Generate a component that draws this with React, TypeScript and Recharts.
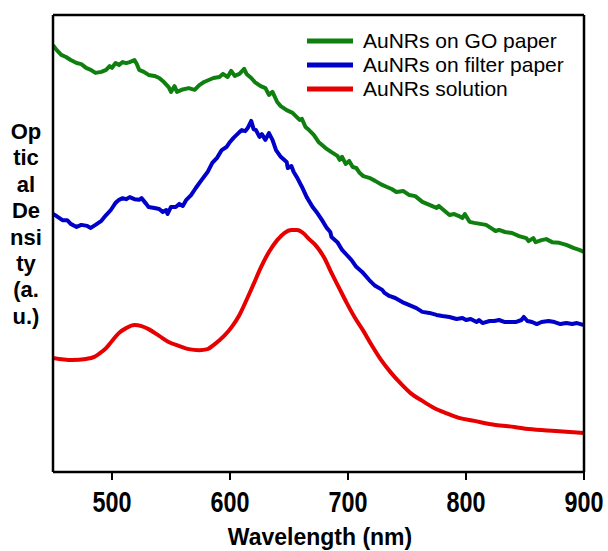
import React from 'react';
import { LineChart, Line, XAxis, YAxis } from 'recharts';

// [wavelength (nm), optical density (a.u.)]
const goPaperSpectrum: [number, number][] = [
  [450,12.61],[453,12.47],[457,12.32],[461,12.26],[465,12.17],[470,12.08],[474,12.05],[478,11.94],[482,11.88],[486,11.79],
  [491,11.82],[495,11.88],[498,11.99],[500,11.94],[503,12.08],[506,12.02],[509,12.11],[512,12.08],[515,12.11],[519,12.17],
  [521,12.05],[523,11.88],[527,11.82],[531,11.73],[536,11.70],[540,11.64],[544,11.52],[548,11.37],[550,11.23],[553,11.40],
  [555,11.23],[559,11.29],[565,11.34],[570,11.29],[574,11.43],[578,11.52],[582,11.58],[586,11.64],[591,11.67],[594,11.76],
  [598,11.67],[601,11.85],[604,11.70],[608,11.76],[612,11.91],[614,11.76],[618,11.64],[621,11.52],[626,11.40],[630,11.34],
  [633,11.14],[636,11.23],[640,10.93],[643,10.81],[648,10.69],[653,10.61],[659,10.40],[661,10.43],[664,10.19],[667,10.10],
  [671,9.96],[675,9.75],[681,9.57],[686,9.45],[691,9.34],[693,9.22],[695,9.31],[698,9.10],[701,9.19],[704,9.01],
  [707,8.98],[710,8.83],[713,8.74],[718,8.69],[723,8.60],[729,8.48],[733,8.42],[737,8.36],[741,8.27],[747,8.30],
  [752,8.18],[757,8.15],[763,7.98],[769,7.89],[775,7.80],[777,7.86],[781,7.74],[786,7.59],[790,7.62],[794,7.56],
  [797,7.50],[799,7.62],[803,7.39],[807,7.36],[812,7.33],[817,7.30],[821,7.21],[825,7.12],[828,7.15],[833,7.09],
  [839,7.06],[845,6.97],[851,6.91],[853,6.82],[857,6.91],[859,6.79],[864,6.85],[868,6.88],[873,6.79],[879,6.77],
  [885,6.71],[891,6.62],[896,6.56],[900,6.50],
];

const filterPaperSpectrum: [number, number][] = [
  [450,7.62],[453,7.56],[458,7.44],[462,7.44],[465,7.33],[470,7.24],[474,7.30],[479,7.27],[482,7.21],[486,7.30],
  [491,7.42],[495,7.59],[499,7.74],[503,7.95],[506,8.04],[509,8.09],[512,8.06],[515,8.12],[519,8.06],[523,8.04],
  [525,8.09],[529,7.92],[531,7.83],[536,7.80],[540,7.77],[543,7.68],[546,7.74],[547,7.62],[550,7.83],[554,7.83],
  [557,7.92],[560,7.86],[563,8.04],[567,8.18],[571,8.39],[576,8.63],[581,8.86],[585,9.13],[589,9.28],[593,9.51],
  [597,9.60],[600,9.75],[603,9.87],[608,10.04],[610,10.10],[613,10.07],[615,10.16],[618,10.37],[620,10.13],[622,10.10],
  [625,9.90],[627,9.98],[630,9.81],[633,10.01],[636,9.81],[639,9.51],[643,9.31],[648,9.16],[649,8.98],[652,9.04],
  [654,8.86],[657,8.69],[661,8.42],[665,8.12],[670,7.83],[674,7.65],[678,7.44],[682,7.21],[685,7.09],[686,6.94],
  [691,6.79],[695,6.56],[699,6.41],[703,6.26],[707,6.06],[712,5.91],[718,5.67],[723,5.50],[729,5.38],[731,5.29],
  [735,5.20],[740,5.14],[746,5.02],[752,4.93],[758,4.84],[763,4.73],[769,4.70],[775,4.64],[780,4.61],[786,4.58],
  [792,4.52],[797,4.55],[800,4.49],[804,4.52],[809,4.43],[811,4.49],[814,4.40],[820,4.46],[824,4.46],[828,4.49],
  [833,4.43],[838,4.43],[842,4.43],[847,4.49],[849,4.58],[852,4.46],[856,4.43],[860,4.37],[864,4.43],[870,4.46],
  [875,4.43],[880,4.37],[885,4.40],[890,4.37],[894,4.40],[900,4.34],
];

const solutionSpectrum: [number, number][] = [
  [450,3.37],[466,3.31],[478,3.34],[485,3.40],[489,3.49],[495,3.66],[500,3.87],[506,4.11],[512,4.25],[519,4.34],
  [525,4.31],[531,4.22],[540,4.02],[548,3.84],[557,3.72],[565,3.63],[574,3.60],[581,3.63],[586,3.75],[595,4.02],
  [602,4.31],[608,4.64],[614,5.08],[620,5.55],[626,6.03],[633,6.50],[640,6.85],[646,7.06],[652,7.15],[657,7.15],
  [662,7.06],[667,6.88],[673,6.68],[680,6.32],[686,5.88],[692,5.47],[699,4.99],[706,4.55],[713,4.17],[720,3.75],
  [728,3.31],[736,2.95],[745,2.60],[753,2.33],[763,2.10],[773,1.89],[783,1.74],[794,1.60],[807,1.51],[825,1.39],
  [841,1.33],[853,1.27],[876,1.21],[900,1.15],
];

const seriesNames = ['AuNRs on GO paper', 'AuNRs on filter paper', 'AuNRs solution'];
const seriesColors = ['#0f800f', '#0000c8', '#e60000'];
const seriesData = [goPaperSpectrum, filterPaperSpectrum, solutionSpectrum];

const xMajorTicks = [500, 600, 700, 800, 900];
const xMinorTicks = [550, 650, 750, 850];
const xTopTicks = [500, 550, 600, 650, 700, 750, 800, 850];
const yTicks = [1, 2, 3, 4, 5, 6, 7, 8, 9, 10, 11, 12, 13];
const xDomain: [number, number] = [450, 900];
const yDomain: [number, number] = [0, 13.5];

const xAxisTitle = 'Wavelength (nm)';
const yAxisTitleLines = ['Op', 'tic', 'al', 'De', 'nsi', 'ty', '(a.', 'u.)'];

const FONT = '"Liberation Sans", Arial, Helvetica, sans-serif';

const XTick = (props: any) => {
  const { x, y, payload } = props;
  return (
    <text
      x={x}
      y={y + 30}
      textAnchor="middle"
      fontFamily={FONT}
      fontWeight="bold"
      fontSize={29}
      textLength={39}
      lengthAdjust="spacingAndGlyphs"
      fill="#000"
    >
      {payload.value}
    </text>
  );
};

export default function App() {
  const series = seriesData.map((arr) => arr.map(([x, y]) => ({ x, y })));
  const axisStroke = { stroke: '#000', strokeWidth: 2.5 };
  const tickStroke = { stroke: '#000', strokeWidth: 1.5 };
  return (
    <div style={{ position: 'absolute', left: 0, top: 0, width: 608, height: 551, background: '#fff' }}>
      <LineChart width={608} height={551} margin={{ top: 15, right: 24, bottom: 0, left: 53 }}>
        <XAxis
          xAxisId={0}
          type="number"
          dataKey="x"
          domain={xDomain}
          allowDataOverflow
          ticks={xMajorTicks}
          height={79}
          tickSize={8}
          axisLine={axisStroke}
          tickLine={{ stroke: '#000', strokeWidth: 2 }}
          tick={<XTick />}
        />
        <XAxis
          xAxisId="minor"
          type="number"
          dataKey="x"
          domain={xDomain}
          allowDataOverflow
          orientation="bottom"
          mirror
          ticks={xMinorTicks}
          tickSize={3}
          axisLine={false}
          tickLine={tickStroke}
          tick={false}
        />
        <XAxis
          xAxisId="top"
          type="number"
          dataKey="x"
          domain={xDomain}
          allowDataOverflow
          orientation="top"
          mirror
          ticks={xTopTicks}
          tickSize={4}
          axisLine={axisStroke}
          tickLine={tickStroke}
          tick={false}
        />
        <YAxis
          yAxisId={0}
          type="number"
          domain={yDomain}
          allowDataOverflow
          mirror
          ticks={yTicks}
          tickSize={4}
          axisLine={axisStroke}
          tickLine={tickStroke}
          tick={false}
        />
        <YAxis
          yAxisId="right"
          type="number"
          orientation="right"
          domain={yDomain}
          allowDataOverflow
          mirror
          ticks={yTicks}
          tickSize={4}
          axisLine={axisStroke}
          tickLine={tickStroke}
          tick={false}
        />
        {series.map((d, i) => (
          <Line
            key={seriesNames[i]}
            data={d}
            dataKey="y"
            name={seriesNames[i]}
            type={i === 2 ? 'monotone' : 'linear'}
            stroke={seriesColors[i]}
            strokeWidth={4}
            strokeLinejoin="round"
            dot={false}
            activeDot={false}
            isAnimationActive={false}
          />
        ))}
      </LineChart>
      <svg
        width={608}
        height={551}
        style={{ position: 'absolute', left: 0, top: 0, pointerEvents: 'none' }}
      >
        {yAxisTitleLines.map((t, i) => (
          <text
            key={t}
            x={26}
            y={139 + i * 26.4}
            textAnchor="middle"
            fontFamily={FONT}
            fontWeight="bold"
            fontSize={22}
            fill="#000"
          >
            {t}
          </text>
        ))}
        <text
          x={320}
          y={545}
          textAnchor="middle"
          fontFamily={FONT}
          fontWeight="bold"
          fontSize={23}
          fill="#000"
        >
          {xAxisTitle}
        </text>
        {seriesNames.map((n, i) => (
          <g key={n}>
            <line x1={307} x2={353} y1={41 + i * 24} y2={41 + i * 24} stroke={seriesColors[i]} strokeWidth={5} />
            <text x={363} y={48 + i * 24} fontFamily={FONT} fontSize={21} fill="#000">
              {n}
            </text>
          </g>
        ))}
      </svg>
    </div>
  );
}
